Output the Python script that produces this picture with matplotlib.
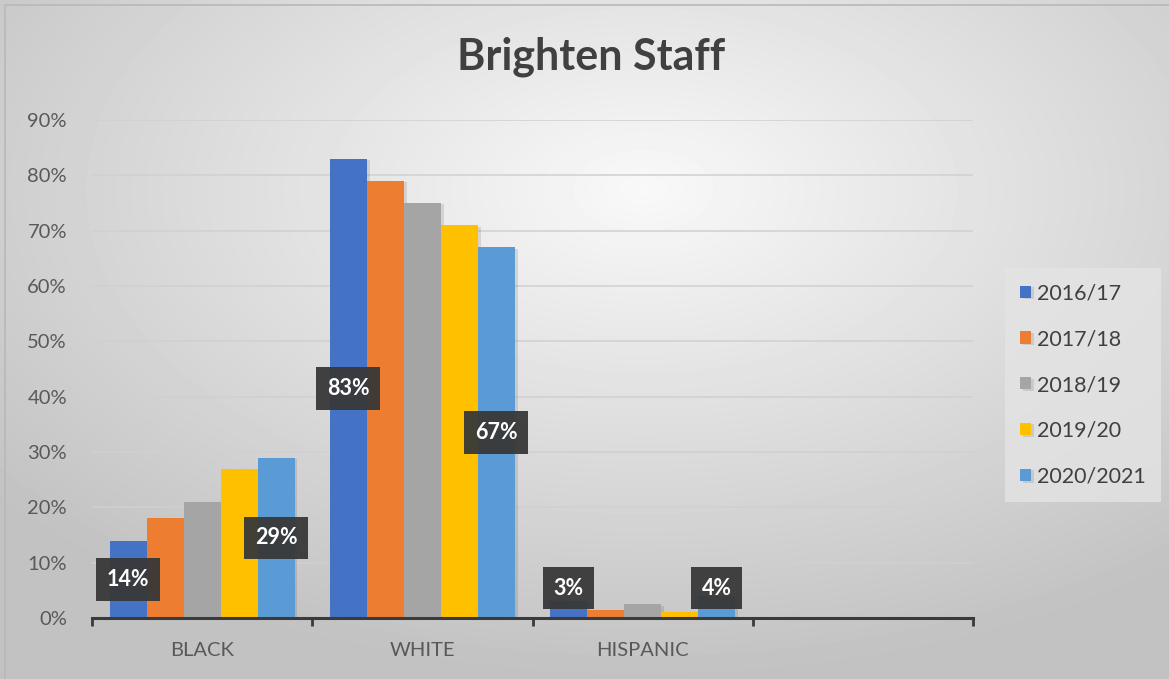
import numpy as np
import matplotlib
matplotlib.use("Agg")
import matplotlib.pyplot as plt
from matplotlib.patches import Rectangle
from matplotlib.ticker import PercentFormatter
import matplotlib.patheffects as pe

plt.rcParams['font.family'] = ['Lato', 'DejaVu Sans']

# Data
categories = ["BLACK", "WHITE", "HISPANIC", ""]
series_names = ["2016/17", "2017/18", "2018/19", "2019/20", "2020/2021"]
values = {
    "2016/17":   [0.14, 0.83, 0.03, None],
    "2017/18":   [0.18, 0.79, 0.015, None],
    "2018/19":   [0.21, 0.75, 0.025, None],
    "2019/20":   [0.27, 0.71, 0.01, None],
    "2020/2021": [0.29, 0.67, 0.04, None],
}
# Data labels shown: (series, category index)
labelled = [("2016/17", 0), ("2020/2021", 0), ("2016/17", 1), ("2020/2021", 1),
            ("2016/17", 2), ("2020/2021", 2)]
colors = ["#4472C4", "#ED7D31", "#A5A5A5", "#FFC000", "#5B9BD5"]
yticks = [0, 0.1, 0.2, 0.3, 0.4, 0.5, 0.6, 0.7, 0.8, 0.9]

W, H = 1169, 679
fig = plt.figure(figsize=(W / 100, H / 100), dpi=100)

# Radial grey gradient behind everything
bg = fig.add_axes([0, 0, 1, 1], zorder=-10)
yy, xx = np.mgrid[0:H, 0:W]
cx, cy = 0.55 * W, 0.28 * H
r = np.sqrt(((xx - cx) / W) ** 2 + ((yy - cy) / H) ** 2)
shade = np.clip(0.975 - 0.30 * r, 0.76, 1.0)
bg.imshow(shade, cmap="gray", vmin=0, vmax=1, aspect="auto",
          extent=[0, W, H, 0], interpolation="bilinear")
bg.add_patch(Rectangle((5, 5), W, H, fill=False, edgecolor="#b8b8b8", lw=1.2))
bg.set_xlim(0, W)
bg.set_ylim(H, 0)
bg.axis("off")

ax = fig.add_axes([92 / W, 1 - 618 / H, (973 - 92) / W, (618 - 120) / H])
ax.set_facecolor("none")

n = len(series_names)
bw = 0.168
x = np.arange(len(categories))
shadow = [pe.SimplePatchShadow(offset=(2, -1), shadow_rgbFace="#000000", alpha=0.10),
          pe.Normal()]
bars = {}
for i, (name, col) in enumerate(zip(series_names, colors)):
    vals = [v if v is not None else 0 for v in values[name]]
    xs = x + (i - (n - 1) / 2) * bw
    b = ax.bar(xs, vals, width=bw, color=col, label=name, zorder=3)
    for p in b:
        p.set_path_effects(shadow)
    bars[name] = (xs, vals)

# Data labels in dark boxes, centred on the bar and kept above the axis
for name, ci in labelled:
    xs, vals = bars[name]
    v = vals[ci]
    ypos = max(v / 2, 0.054)
    ax.text(xs[ci], ypos, f"{round(v * 100):.0f}%", ha="center", va="center",
            color="white", fontsize=15.5, fontweight="bold", zorder=6,
            bbox=dict(boxstyle="square,pad=0.5", fc="#383838", ec="none", alpha=0.95))

ax.set_ylim(0, 0.9)
ax.set_xlim(-0.5, len(categories) - 0.5)
ax.set_yticks(yticks)
ax.yaxis.set_major_formatter(PercentFormatter(1.0, decimals=0))
ax.grid(axis="y", color="#d0d0d0", lw=1.1, zorder=0)
ax.set_axisbelow(True)
for s in ["top", "right", "left"]:
    ax.spines[s].set_visible(False)
ax.spines["bottom"].set_color("#3a3a3a")
ax.spines["bottom"].set_linewidth(2.2)
ax.spines["bottom"].set_zorder(7)

ax.tick_params(axis="y", length=0, pad=18, labelsize=14.5, labelcolor="#595959")
ax.set_xticks(x)
ax.set_xticklabels(categories)
ax.tick_params(axis="x", length=0, pad=17, labelsize=14.5, labelcolor="#595959")
# Category separator ticks
ax.set_xticks(np.arange(-0.5, len(categories)), minor=True)
ax.tick_params(axis="x", which="minor", length=6, width=2, color="#3a3a3a", direction="out")

fig.text(591 / W, 1 - 57 / H, "Brighten Staff", ha="center", va="center",
         fontsize=31, fontweight="bold", color="#404040")

handles, labels = ax.get_legend_handles_labels()
leg = fig.legend(handles, labels, loc="center left",
                 bbox_to_anchor=(1005 / W, 1 - 385 / H), frameon=True,
                 fontsize=15.5, labelspacing=1.2, handlelength=0.5, handleheight=0.5,
                 handletextpad=0.3, borderpad=0.7, borderaxespad=0, fancybox=False)
leg.get_frame().set_facecolor("#e4e4e4")
leg.get_frame().set_edgecolor("none")
leg.get_frame().set_alpha(0.8)
for t in leg.get_texts():
    t.set_color("#404040")

fig.savefig("out.png", dpi=100)
